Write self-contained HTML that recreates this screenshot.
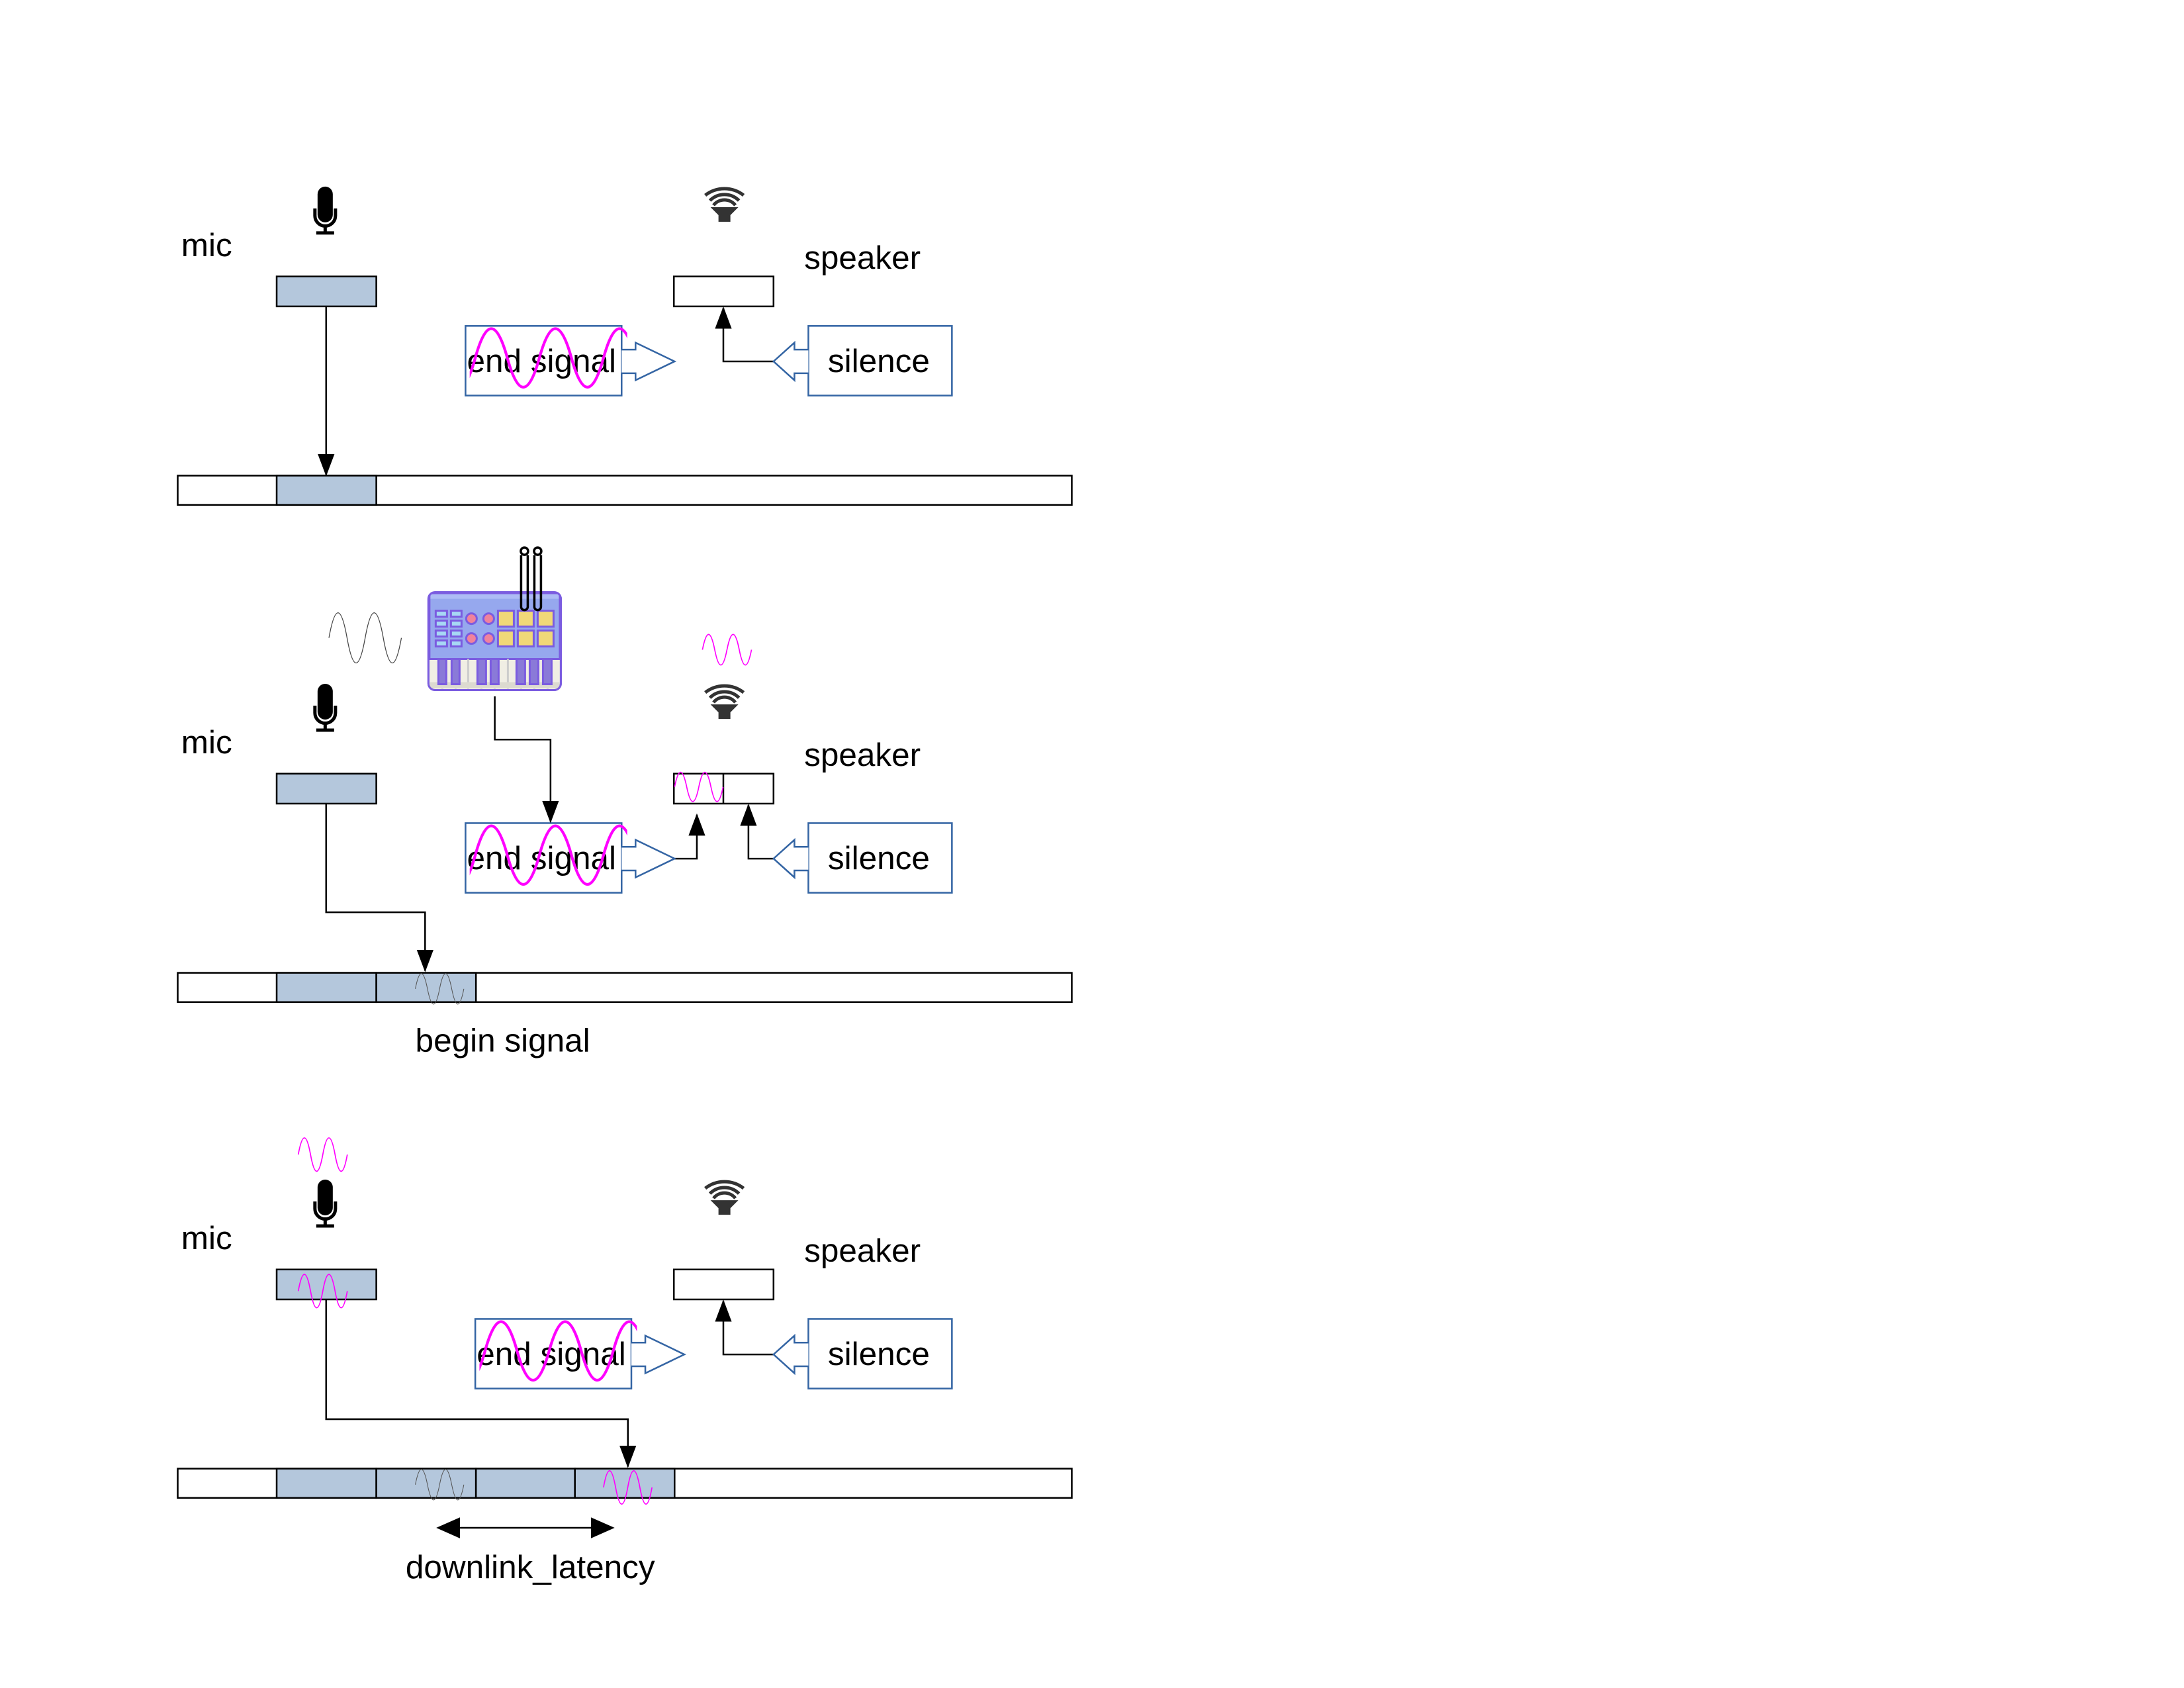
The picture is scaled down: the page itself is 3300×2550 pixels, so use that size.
<!DOCTYPE html>
<html><head><meta charset="utf-8"><style>
html,body{margin:0;padding:0;background:#fff;}
svg{display:block;}
text{font-family:"Liberation Sans",Arial,sans-serif;font-size:23.5px;fill:#000;}
</style></head><body>
<svg width="3300" height="2550" viewBox="0 0 1567 1212" preserveAspectRatio="none" xmlns="http://www.w3.org/2000/svg">
<defs>
  <marker id="ah" markerWidth="16" markerHeight="12" refX="15" refY="6" orient="auto" markerUnits="userSpaceOnUse">
    <path d="M0,0 L16,6 L0,12 Z" fill="#000"/>
  </marker>
  <g id="mic">
    <rect x="6" y="0" width="23" height="54" rx="11.5" fill="#000"/>
    <path d="M2,33 V44 A15.5,15.5 0 0 0 33,44 V33" fill="none" stroke="#000" stroke-width="5"/>
    <line x1="17.5" y1="58" x2="17.5" y2="70" stroke="#000" stroke-width="5"/>
    <line x1="4" y1="70" x2="31" y2="70" stroke="#000" stroke-width="5"/>
  </g>
  <g id="spk">
    <path d="M0,11 A47,47 0 0 1 58,11" fill="none" stroke="#333" stroke-width="5"/>
    <path d="M7,19 A31,31 0 0 1 51,19" fill="none" stroke="#333" stroke-width="5"/>
    <path d="M12.5,26 A21,21 0 0 1 45.5,26" fill="none" stroke="#333" stroke-width="5"/>
    <path d="M8,29 H50 L38,41 V51 H20 V41 Z" fill="#333"/>
  </g>
  <clipPath id="c1"><rect x="337" y="230" width="113" height="60"/></clipPath>
</defs>

<g id="p1">
  <text x="130" y="184">mic</text>
  <use href="#mic" transform="translate(225,134) scale(0.475)"/>
  <use href="#spk" transform="translate(506,135) scale(0.475)"/>
  <text x="577" y="193">speaker</text>
  <rect x="198.5" y="198.5" width="71.5" height="21.5" fill="#b4c7dc" stroke="#000" stroke-width="1.2"/>
  <rect x="483.5" y="198.5" width="71.5" height="21.5" fill="#fff" stroke="#000" stroke-width="1.2"/>
  <line x1="234" y1="220" x2="234" y2="341" stroke="#000" stroke-width="1.2" marker-end="url(#ah)"/>
  <path d="M555,259.5 H519 V221" fill="none" stroke="#000" stroke-width="1.2" marker-end="url(#ah)"/>
  <rect x="127.5" y="341.5" width="641.5" height="21" fill="#fff" stroke="#000" stroke-width="1.2"/>
  <rect x="198.5" y="341.5" width="71.5" height="21" fill="#b4c7dc" stroke="#000" stroke-width="1.2"/>
</g>

<g id="es">
  <rect x="334" y="234" width="112" height="50" fill="#fff" stroke="#3465a4" stroke-width="1.2"/>
  <path d="M446,251 H456 V246 L484,259.5 L456,273 V268 H446" fill="#fff" stroke="#3465a4" stroke-width="1.2"/>
  <text x="335" y="267">end signal</text>
  <path d="M295,257 q11.5,-42 23,0 t23,0 t23,0 t23,0 t23,0 t23,0 t23,0" fill="none" stroke="#f0f" stroke-width="2" clip-path="url(#c1)"/>
</g>
<g id="sil">
  <rect x="580" y="234" width="103" height="50" fill="#fff" stroke="#3465a4" stroke-width="1.2"/>
  <path d="M580,251 H570 V246 L555,259.5 L570,273 V268 H580" fill="#fff" stroke="#3465a4" stroke-width="1.2"/>
  <text x="594" y="267">silence</text>
</g>

<g transform="translate(0,357)">
  <text x="130" y="184">mic</text>
  <use href="#mic" transform="translate(225,134) scale(0.475)"/>
  <use href="#spk" transform="translate(506,135) scale(0.475)"/>
  <text x="577" y="193">speaker</text>
  <rect x="198.5" y="198.5" width="71.5" height="21.5" fill="#b4c7dc" stroke="#000" stroke-width="1.2"/>
  <rect x="483.5" y="198.5" width="71.5" height="21.5" fill="#fff" stroke="#000" stroke-width="1.2"/>
  <line x1="519" y1="198.5" x2="519" y2="220" stroke="#000" stroke-width="1.2"/>
  <path d="M484,208 q4.3,-21 8.7,0 t8.7,0 t8.7,0 t8.7,0" fill="none" stroke="#f0f" stroke-width="0.8"/>
  <path d="M234,220 V298 H305 V340" fill="none" stroke="#000" stroke-width="1.2" marker-end="url(#ah)"/>
  <path d="M484,259.5 H500 V228" fill="none" stroke="#000" stroke-width="1.2" marker-end="url(#ah)"/>
  <path d="M555,259.5 H537 V221" fill="none" stroke="#000" stroke-width="1.2" marker-end="url(#ah)"/>
  <use href="#es"/>
  <use href="#sil"/>
  <rect x="127.5" y="341.5" width="641.5" height="21" fill="#fff" stroke="#000" stroke-width="1.2"/>
  <rect x="198.5" y="341.5" width="71.5" height="21" fill="#b4c7dc" stroke="#000" stroke-width="1.2"/>
  <rect x="270" y="341.5" width="71.5" height="21" fill="#b4c7dc" stroke="#000" stroke-width="1.2"/>
  <path d="M298,353 q4.3,-22 8.7,0 t8.7,0 t8.7,0 t8.7,0" fill="none" stroke="#555" stroke-width="0.5"/>
  <text x="298" y="398">begin signal</text>
  <path d="M236,101 q6.5,-36 13,0 t13,0 t13,0 t13,0" fill="none" stroke="#444" stroke-width="0.6"/>
  <path d="M504,109.5 q4.4,-22 8.8,0 t8.8,0 t8.8,0 t8.8,0" fill="none" stroke="#f0f" stroke-width="0.8"/>
  <path d="M355,143 V174 H395 V233" fill="none" stroke="#000" stroke-width="1.2" marker-end="url(#ah)"/>
</g>

<g transform="translate(307.4,425.2) scale(0.475)">
  <rect x="0" y="0" width="200" height="148" rx="10" fill="#f0eee4" stroke="#7b5ce0" stroke-width="3"/>
  <path d="M1.5,101 V10 A8.5,8.5 0 0 1 10,1.5 H190 A8.5,8.5 0 0 1 198.5,10 V101 Z" fill="#96a8ee" stroke="#7b5ce0" stroke-width="3"/>
  <rect x="3" y="3" width="194" height="7" fill="#aebcf5"/>
  <g fill="#a7d8f5" stroke="#7b5ce0" stroke-width="3">
    <rect x="11" y="28" width="17" height="9"/><rect x="34" y="28" width="16" height="9"/>
    <rect x="11" y="43" width="17" height="9"/><rect x="34" y="43" width="16" height="9"/>
    <rect x="11" y="58" width="17" height="9"/><rect x="34" y="58" width="16" height="9"/>
    <rect x="11" y="73" width="17" height="9"/><rect x="34" y="73" width="16" height="9"/>
  </g>
  <g fill="#f0829c" stroke="#7b5ce0" stroke-width="3">
    <circle cx="65" cy="40" r="8"/><circle cx="91" cy="40" r="8"/>
    <circle cx="65" cy="70" r="8"/><circle cx="91" cy="70" r="8"/>
  </g>
  <g fill="#f0d878" stroke="#7b5ce0" stroke-width="3">
    <rect x="105" y="28" width="24" height="24"/><rect x="135" y="28" width="24" height="24"/><rect x="165" y="28" width="24" height="24"/>
    <rect x="105" y="58" width="24" height="24"/><rect x="135" y="58" width="24" height="24"/><rect x="165" y="58" width="24" height="24"/>
  </g>
  <g stroke="#ccc" stroke-width="3">
    <line x1="21" y1="130" x2="21" y2="146"/><line x1="41" y1="130" x2="41" y2="146"/><line x1="60" y1="101" x2="60" y2="146"/>
    <line x1="80" y1="130" x2="80" y2="146"/><line x1="100" y1="130" x2="100" y2="146"/><line x1="120" y1="101" x2="120" y2="146"/>
    <line x1="140" y1="130" x2="140" y2="146"/><line x1="160" y1="130" x2="160" y2="146"/><line x1="180" y1="130" x2="180" y2="146"/>
  </g>
  <rect x="2" y="136" width="196" height="9" fill="#dcdad0"/>
  <g fill="#8a7ad8" stroke="#7b5ce0" stroke-width="3">
    <rect x="15" y="101" width="12" height="38"/><rect x="35" y="101" width="12" height="38"/>
    <rect x="74" y="101" width="13" height="38"/><rect x="94" y="101" width="12" height="38"/>
    <rect x="133" y="101" width="13" height="38"/><rect x="153" y="101" width="13" height="38"/><rect x="173" y="101" width="13" height="38"/>
  </g>
  <rect x="0" y="0" width="200" height="148" rx="10" fill="none" stroke="#7b5ce0" stroke-width="3"/>
  <g fill="none" stroke="#000" stroke-width="3.5">
    <path d="M140,-56 V22 A5,5 0 0 0 150,22 V-56"/><circle cx="145" cy="-62" r="5.5"/>
    <path d="M160,-56 V22 A5,5 0 0 0 170,22 V-56"/><circle cx="165" cy="-62" r="5.5"/>
  </g>
</g>

<clipPath id="c3"><rect x="344" y="943" width="113" height="60"/></clipPath>
<g transform="translate(0,713)">
  <text x="130" y="184">mic</text>
  <use href="#mic" transform="translate(225,134) scale(0.475)"/>
  <use href="#spk" transform="translate(506,135) scale(0.475)"/>
  <text x="577" y="193">speaker</text>
  <rect x="198.5" y="198.5" width="71.5" height="21.5" fill="#b4c7dc" stroke="#000" stroke-width="1.2"/>
  <path d="M214,214 q4.4,-24 8.8,0 t8.8,0 t8.8,0 t8.8,0" fill="none" stroke="#f0f" stroke-width="0.8"/>
  <path d="M214,116 q4.4,-24 8.8,0 t8.8,0 t8.8,0 t8.8,0" fill="none" stroke="#f0f" stroke-width="0.8"/>
  <rect x="483.5" y="198.5" width="71.5" height="21.5" fill="#fff" stroke="#000" stroke-width="1.2"/>
  <path d="M555,259.5 H519 V221" fill="none" stroke="#000" stroke-width="1.2" marker-end="url(#ah)"/>
  <path d="M234,220 V306 H450.5 V340" fill="none" stroke="#000" stroke-width="1.2" marker-end="url(#ah)"/>
  <g transform="translate(7,0)">
    <rect x="334" y="234" width="112" height="50" fill="#fff" stroke="#3465a4" stroke-width="1.2"/>
    <path d="M446,251 H456 V246 L484,259.5 L456,273 V268 H446" fill="#fff" stroke="#3465a4" stroke-width="1.2"/>
    <text x="335" y="267">end signal</text>
  </g>
  <use href="#sil"/>
  <rect x="127.5" y="341.5" width="641.5" height="21" fill="#fff" stroke="#000" stroke-width="1.2"/>
  <rect x="198.5" y="341.5" width="71.5" height="21" fill="#b4c7dc" stroke="#000" stroke-width="1.2"/>
  <rect x="270" y="341.5" width="71.5" height="21" fill="#b4c7dc" stroke="#000" stroke-width="1.2"/>
  <rect x="341.5" y="341.5" width="71" height="21" fill="#b4c7dc" stroke="#000" stroke-width="1.2"/>
  <rect x="412.5" y="341.5" width="71.5" height="21" fill="#b4c7dc" stroke="#000" stroke-width="1.2"/>
  <path d="M298,353 q4.3,-22 8.7,0 t8.7,0 t8.7,0 t8.7,0" fill="none" stroke="#555" stroke-width="0.5"/>
  <path d="M433,355 q4.3,-24 8.7,0 t8.7,0 t8.7,0 t8.7,0" fill="none" stroke="#f0f" stroke-width="0.8"/>
  <line x1="324" y1="384" x2="430" y2="384" stroke="#000" stroke-width="1.2"/>
  <path d="M313,384 L330,376.5 V391.5 Z" fill="#000"/>
  <path d="M441,384 L424,376.5 V391.5 Z" fill="#000"/>
  <text x="291" y="420">downlink_latency</text>
</g>
<path d="M302,970 q11.5,-42 23,0 t23,0 t23,0 t23,0 t23,0 t23,0 t23,0" fill="none" stroke="#f0f" stroke-width="2" clip-path="url(#c3)"/>
</svg>
</body></html>
